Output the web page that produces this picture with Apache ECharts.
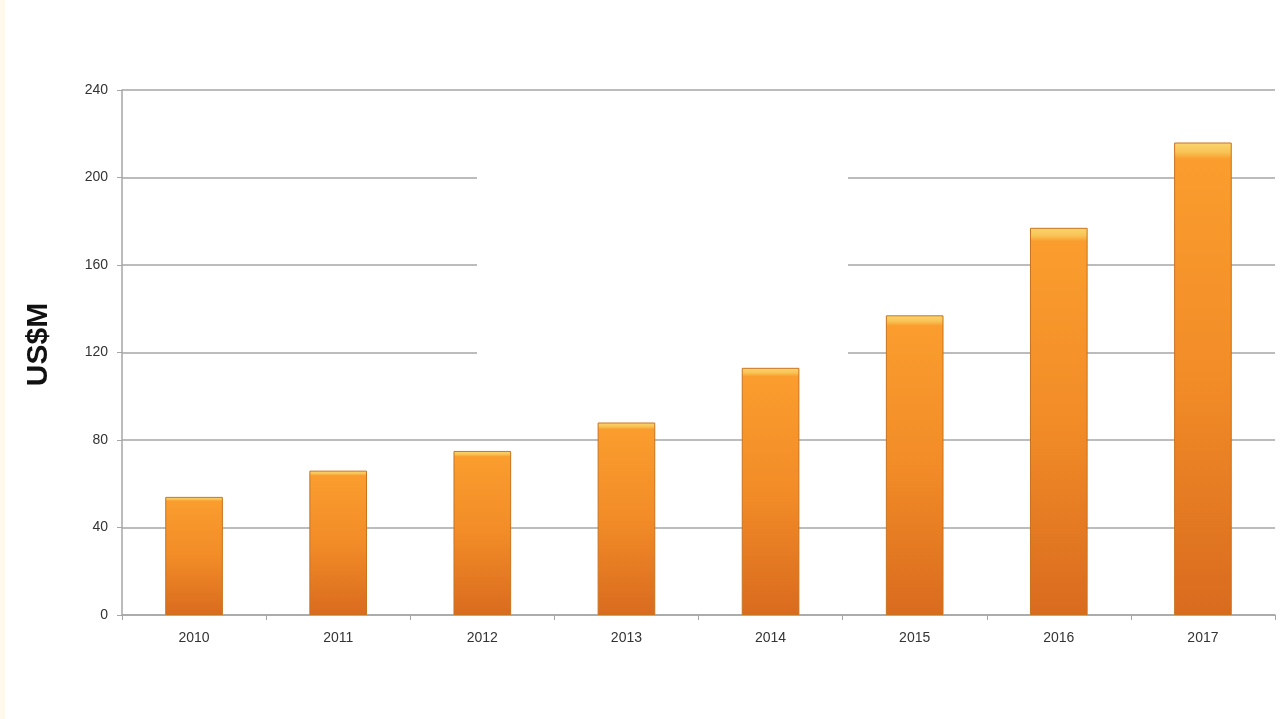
<!DOCTYPE html>
<html><head><meta charset="utf-8">
<script src="https://cdn.jsdelivr.net/npm/echarts@6/dist/echarts.min.js"></script>
<style>html,body{margin:0;padding:0;background:#fff}#c{width:1280px;height:719px}</style>
</head><body><div id="c"></div>
<script>
const categories = ['2010','2011','2012','2013','2014','2015','2016','2017'];
const values = [54, 66, 75, 88, 113, 137, 177, 216];
const yTicks = [0, 40, 80, 120, 160, 200, 240];

const chart = echarts.init(document.getElementById('c'));
chart.setOption({
  backgroundColor: '#ffffff',
  animation: false,
  grid: {left: 122, right: 5, top: 90, bottom: 104},
  xAxis: {
    type: 'category', data: categories,
    axisLine: {lineStyle: {color: '#a6a6a6', width: 1.5}},
    axisTick: {show: true, length: 5, lineStyle: {color: '#a6a6a6'}},
    axisLabel: {color: '#333', fontSize: 14, fontFamily: 'Liberation Sans, Arial', margin: 16}
  },
  yAxis: {
    type: 'value', min: yTicks[0], max: yTicks[yTicks.length-1], interval: 40,
    name: 'US$M', nameLocation: 'middle', nameGap: 68, nameRotate: 90,
    nameTextStyle: {fontSize: 30, fontWeight: 'bold', color: '#111', fontFamily: 'Liberation Sans, Arial', padding: [0, 0, 0, 16]},
    axisLine: {show: true, lineStyle: {color: '#a6a6a6', width: 1.5}},
    axisTick: {show: true, length: 5, lineStyle: {color: '#a6a6a6'}},
    axisLabel: {color: '#333', fontSize: 14, fontFamily: 'Liberation Sans, Arial', margin: 14},
    splitLine: {lineStyle: {color: '#a6a6a6', width: 1.5}}
  },
  graphic: [
    {type: 'rect', z: 1, shape: {x: 477, y: 150, width: 371, height: 212}, style: {fill: '#ffffff'}},
    {type: 'rect', z: 1, shape: {x: 0, y: 0, width: 5, height: 719}, style: {fill: '#fff8ec'}}
  ],
  series: [{
    type: 'bar', data: values, barWidth: '40%', z: 3,
    itemStyle: {
      color: new echarts.graphic.LinearGradient(0, 0, 0, 1, [
        {offset: 0, color: '#fbd670'},
        {offset: 0.02, color: '#f8c455'},
        {offset: 0.035, color: '#fa9d2e'},
        {offset: 0.5, color: '#f28c27'},
        {offset: 1, color: '#d96b1f'}
      ]),
      borderColor: '#c9731f', borderWidth: 1
    }
  }]
});
</script></body></html>
